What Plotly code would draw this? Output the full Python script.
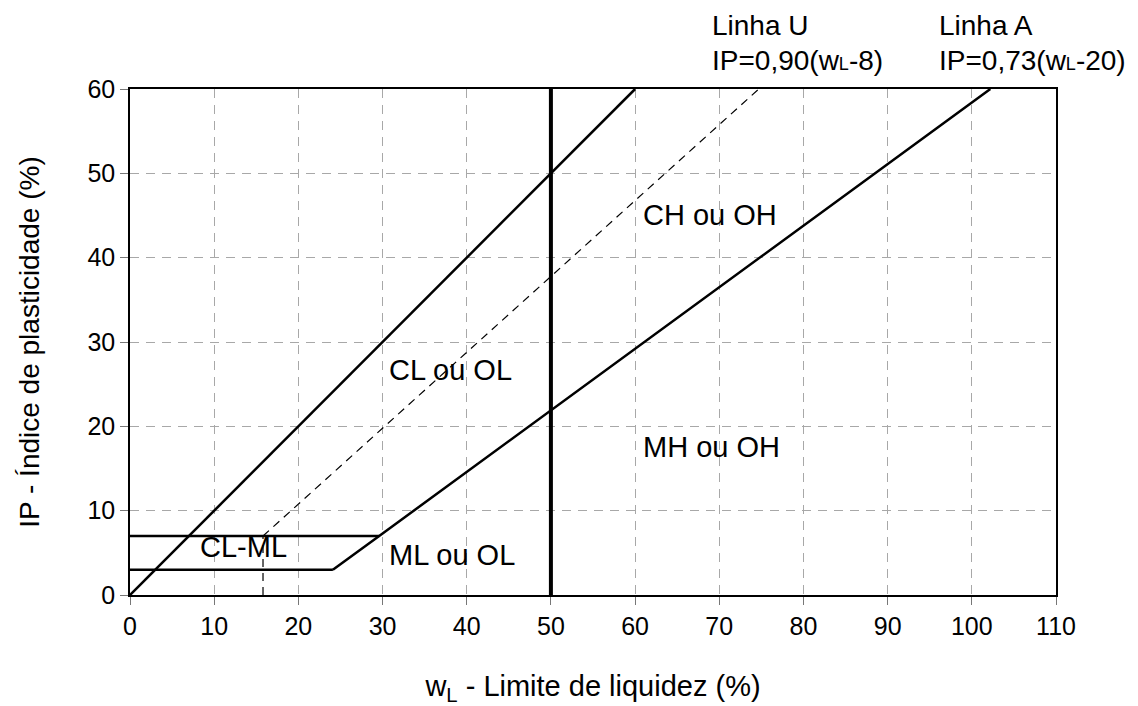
import plotly.graph_objects as go

FONT = "Liberation Sans, Arial, Helvetica, sans-serif"
GRID = "#a8a8a8"

# boundary lines (wL, IP)
diag_x = [0, 60]
diag_y = [0, 60]
u_line_x = [15.8, 74.7]
u_line_y = [7, 60]
u_foot_x = [15.8, 15.8]
u_foot_y = [0, 7]
a_line_x = [24.1, 29.6, 102.2]
a_line_y = [3, 7, 60]
top_band_x = [0, 29.6]
top_band_y = [7, 7]
low_band_x = [0, 24.1]
low_band_y = [3, 3]
wl50_x = [50, 50]
wl50_y = [0, 60]

# zone labels
zone_names = ["CL ou OL", "CH ou OH", "MH ou OH", "ML ou OL", "CL-ML"]
zone_x = [38.1, 68.9, 69.1, 38.3, 13.5]
zone_y = [26.7, 45.1, 17.5, 4.7, 5.7]

x_ticks = list(range(0, 111, 10))
y_ticks = list(range(0, 61, 10))

fig = go.Figure()


def add_line(xs, ys, width, dash="solid"):
    fig.add_trace(
        go.Scatter(
            x=xs,
            y=ys,
            mode="lines",
            line=dict(color="black", width=width, dash=dash),
            showlegend=False,
            hoverinfo="skip",
        )
    )


add_line(diag_x, diag_y, 2.5)
add_line(u_line_x, u_line_y, 1.2, "8px,6px")
add_line(u_foot_x, u_foot_y, 1.2, "8px,6px")
add_line(a_line_x, a_line_y, 2.5)
add_line(top_band_x, top_band_y, 2.5)
add_line(low_band_x, low_band_y, 2.5)
add_line(wl50_x, wl50_y, 4)

for name, zx, zy in zip(zone_names, zone_x, zone_y):
    fig.add_annotation(
        x=zx, y=zy, text=name, showarrow=False,
        xanchor="center", yanchor="middle",
        font=dict(family=FONT, size=29, color="black"),
    )

small_l = "<span style='font-size:18px'>L</span>"
header = [
    (0.626, 1.126, "Linha U"),
    (0.626, 1.057, "IP=0,90(w" + small_l + "-8)"),
    (0.872, 1.126, "Linha A"),
    (0.872, 1.057, "IP=0,73(w" + small_l + "-20)"),
]
for hx, hy, txt in header:
    fig.add_annotation(
        x=hx, y=hy, xref="paper", yref="paper", text=txt, showarrow=False,
        xanchor="left", yanchor="middle",
        font=dict(family=FONT, size=28, color="black"),
    )

axis_common = dict(
    showline=True,
    mirror=True,
    linecolor="black",
    linewidth=1.5,
    showgrid=True,
    gridcolor=GRID,
    griddash="9px,7px",
    gridwidth=1,
    ticks="outside",
    ticklen=8,
    tickcolor="#777777",
    tickfont=dict(family=FONT, size=25, color="black"),
    zeroline=False,
    automargin=False,
)

fig.update_xaxes(
    range=[0, 110],
    tickvals=x_ticks,
    title=dict(text="w<sub>L</sub> - Limite de liquidez (%)",
               font=dict(family=FONT, size=29, color="black"), standoff=45),
    **axis_common,
)
fig.update_yaxes(
    range=[0, 60],
    tickvals=y_ticks,
    title=dict(text="IP - Índice de plasticidade (%)",
               font=dict(family=FONT, size=28, color="black"), standoff=40),
    **axis_common,
)

# the page body adds an 8px offset, so the figure is sized to fit the window
fig.update_layout(
    width=1130,
    height=698,
    margin=dict(l=122, r=82, t=81, b=111),
    paper_bgcolor="white",
    plot_bgcolor="white",
    showlegend=False,
)

fig.write_html("out.html")
